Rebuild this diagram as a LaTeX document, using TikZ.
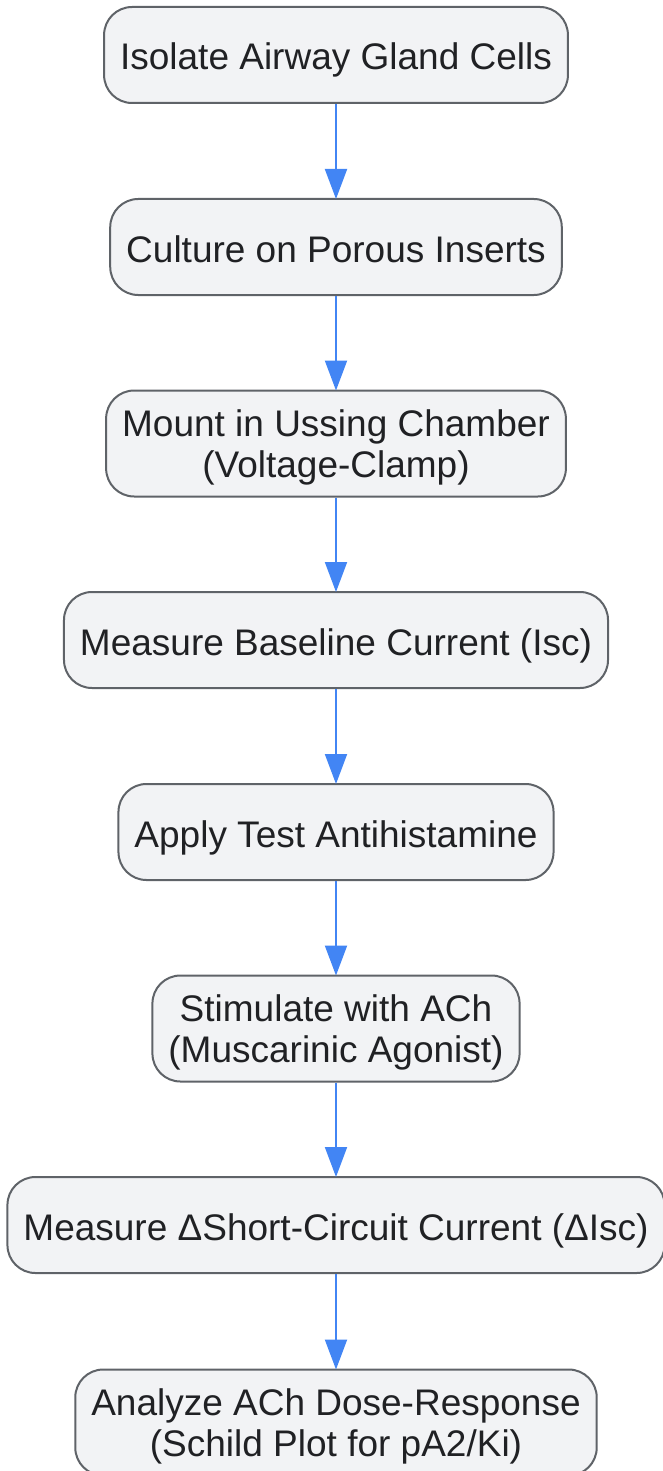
\documentclass[tikz,border=0pt]{standalone}
\usepackage{fontspec}
\setmainfont{Liberation Sans}
\usetikzlibrary{arrows.meta}
\definecolor{boxfill}{HTML}{F2F3F5}
\definecolor{boxline}{HTML}{5F6368}
\definecolor{flowblue}{HTML}{4285F4}
\definecolor{inktext}{HTML}{202124}
\begin{document}
\begin{tikzpicture}[x=1pt, y=1pt,
    stage/.style ={rectangle, rounded corners=28pt, draw=boxline, line width=2pt,
      fill=boxfill, text=inktext, inner xsep=16pt, inner ysep=0pt,
      font=\fontsize{37}{41}\selectfont, align=center},
    oneline/.style ={stage, minimum height=96pt, text height=33pt, text depth=3pt},
    twoline/.style ={stage, minimum height=106pt, text height=74pt, text depth=7pt},
    flow/.style ={draw=flowblue, line width=2pt, -{Triangle[width=22pt, length=30pt]}, shorten >=-1pt}]
   \useasboundingbox (0,0) rectangle (662,-1471);
   \node[oneline] (A) at (336,-55)     {Isolate Airway Gland Cells};
   \node[oneline] (B) at (336,-247)    {Culture on Porous Inserts};
   \node[twoline] (C) at (336,-443.5)  {Mount in Ussing Chamber\\(Voltage-Clamp)};
   \node[oneline] (D) at (336,-640)    {Measure Baseline Current (Isc)};
   \node[oneline] (E) at (336,-832)    {Apply Test Antihistamine};
   \node[twoline] (F) at (336,-1028.5) {Stimulate with ACh\\(Muscarinic Agonist)};
   \node[oneline] (G) at (336,-1225)   {Measure ΔShort-Circuit Current (ΔIsc)};
   \node[twoline] (H) at (336,-1422.5) {Analyze ACh Dose-Response\\(Schild Plot for pA2/Ki)};

   \draw[flow] (A) -- (B);
   \draw[flow] (B) -- (C);
   \draw[flow] (C) -- (D);
   \draw[flow] (D) -- (E);
   \draw[flow] (E) -- (F);
   \draw[flow] (F) -- (G);
   \draw[flow] (G) -- (H);
 \end{tikzpicture}
\end{document}
